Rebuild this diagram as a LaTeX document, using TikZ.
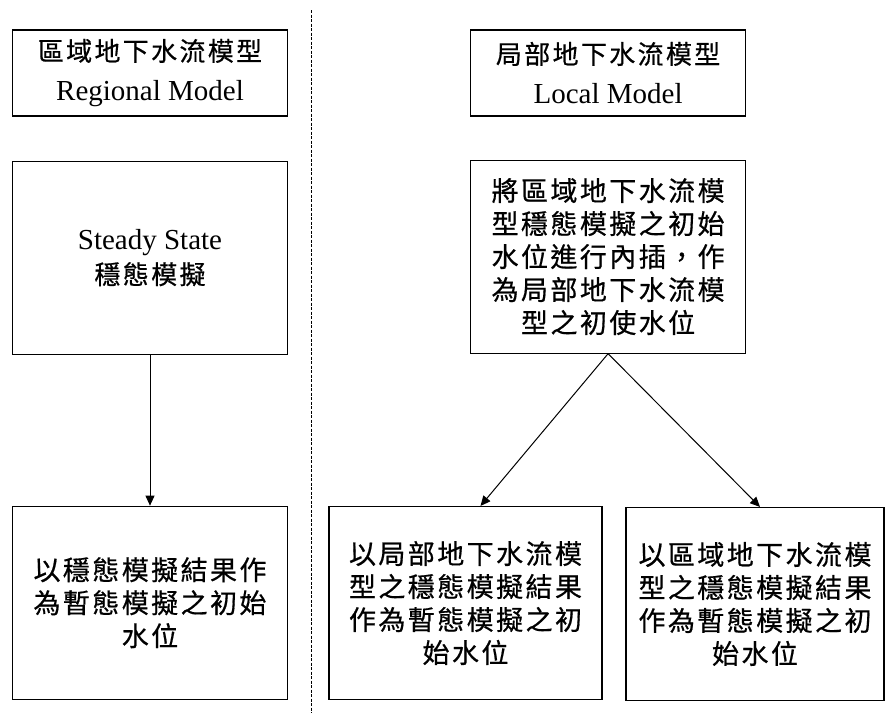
\documentclass[tikz,border=0pt]{standalone}
\usepackage{fontspec}
\setmainfont{Liberation Serif}
\newfontfamily\cjk{Noto Sans CJK TC}[LetterSpace=9,FakeBold=0.6]
\usetikzlibrary{arrows.meta,positioning}

\begin{document}
\begin{tikzpicture}[
  x=1pt,y=-1pt,
  modelbox/.style={draw,line width=1.1pt,minimum width=275pt,minimum height=86pt,
    align=center,inner sep=2pt,font=\fontsize{29}{40}\selectfont},
  stagebox/.style={draw,line width=1.1pt,minimum width=275pt,minimum height=193pt,
    align=center,inner sep=2pt,font=\cjk\fontsize{27}{33}\selectfont},
  flow/.style={line width=1pt,-{Triangle[length=10pt,width=9pt]}},
  divider/.style={line width=1pt,dash pattern=on 3pt off 1.5pt}
]
  \useasboundingbox (0,0) rectangle (894,713);

  \node[modelbox] (regional) at (150,73)
    {{\cjk\fontsize{26}{40}\selectfont 區域地下水流模型}\\Regional Model};
  \node[modelbox,right=182pt of regional] (local)
    {{\cjk\fontsize{26}{40}\selectfont 局部地下水流模型}\\Local Model};

  \node[stagebox,below=44pt of regional,font=\fontsize{29}{35}\selectfont] (regsteady)
    {Steady State\\{\cjk\fontsize{26}{35}\selectfont 穩態模擬}};
  \node[stagebox,below=151pt of regsteady] (regtrans)
    {以穩態模擬結果作\\為暫態模擬之初始\\水位};

  \node[stagebox,below=43pt of local] (interp)
    {將區域地下水流模\\型穩態模擬之初始\\水位進行內插，作\\為局部地下水流模\\型之初使水位};
  \node[stagebox,minimum width=273pt] (loctrans) at (465.5,603)
    {以局部地下水流模\\型之穩態模擬結果\\作為暫態模擬之初\\始水位};
  \node[stagebox,minimum width=258pt] (regiontrans) at (755,604)
    {以區域地下水流模\\型之穩態模擬結果\\作為暫態模擬之初\\始水位};

  \draw[divider] (311,10) -- (311,713);

  \draw[flow] (regsteady.south) -- (regtrans.north);
  \draw[flow] (interp.south) -- ([xshift=15pt]loctrans.north);
  \draw[flow] (interp.south) -- ([xshift=5pt]regiontrans.north);
\end{tikzpicture}
\end{document}
